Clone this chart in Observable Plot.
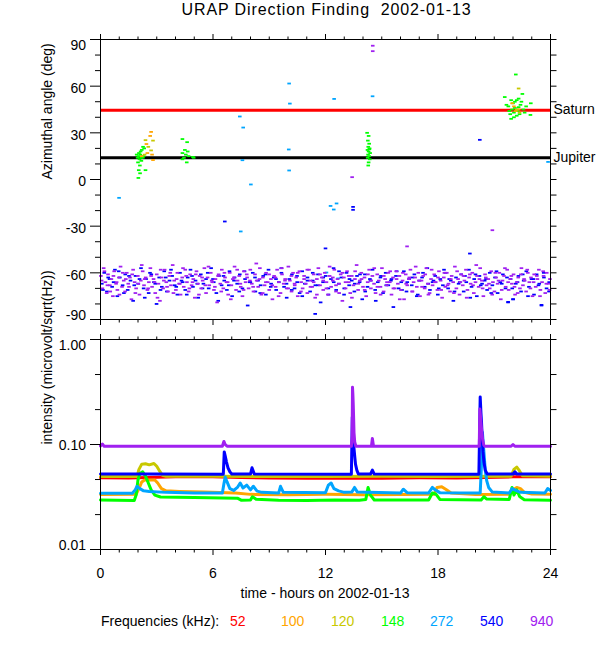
<!DOCTYPE html>
<html>
<head>
<meta charset="utf-8">
<script src="https://cdn.jsdelivr.net/npm/d3@7"></script>
<script src="https://cdn.jsdelivr.net/npm/@observablehq/plot@0.6"></script>
<style>
  body { margin: 0; background: #fff; }
  #wrap { position: relative; width: 600px; height: 650px; overflow: hidden; background: #fff;
          font-family: "Liberation Sans", Arial, Helvetica, sans-serif; color: #000; }
  .abs { position: absolute; white-space: pre; }
</style>
</head>
<body>
<div id="wrap">
  <div id="topPanel" class="abs" style="left:0;top:0"></div>
  <div id="botPanel" class="abs" style="left:0;top:330px"></div>
  <div id="title" class="abs" style="left:0;width:653px;top:1.5px;text-align:center;font-size:16px;line-height:16px;letter-spacing:0.9px"></div>
  <div id="xtitle" class="abs" style="left:0;width:650px;top:586.4px;text-align:center;font-size:14px;line-height:14px"></div>
  <div id="legend" class="abs" style="left:0;top:613.8px;width:600px;height:20px;font-size:14px;line-height:14px"></div>
</div>
<script>
// ---------------- text ----------------
const titleText = "URAP Direction Finding  2002-01-13";
const xTitle = "time - hours on 2002-01-13";
const yTitleTop = "Azimuthal angle (deg)";
const yTitleBottom = "intensity (microvolt/sqrt(Hz))";
const legendTitle = "Frequencies (kHz):";

// ---------------- ticks ----------------
const hoursMajor = [0, 6, 12, 18, 24];
const hoursMinor = [1, 2, 3, 4, 5, 7, 8, 9, 10, 11, 13, 14, 15, 16, 17, 19, 20, 21, 22, 23];
const angleMajor = [90, 60, 30, 0, -30, -60, -90];
const angleMinor = [80, 70, 50, 40, 20, 10, -10, -20, -40, -50, -70, -80];
const intensityMajor = [1, 0.1, 0.01];
const intensityLabels = ["1.00", "0.10", "0.01"];
const intensityMinor = [0.464, 0.215, 0.0464, 0.0215];

// ---------------- series ----------------
const freqs = ["52", "100", "120", "148", "272", "540", "940"];
const colors = ["#ff0000", "#ffa500", "#c8c800", "#00ff00", "#00a5ff", "#0000ff", "#a020f0"];

const planetNames = ["Saturn", "Jupiter"];
const planetAngles = [44.5, 14];

// Azimuth scatter: [hour, angle]
const az100 = [[2.7,30.6],[2.65,28],[2.45,22.8],[2.75,16],[2.8,12.5],[2.5,17],[2.2,15],[22.05,47],[22.15,44],[22.3,45],[21.95,49]];
const az120 = [[2.4,25.3],[2.8,25],[2.7,18.7],[2.55,21],[2.35,16],[22.3,58.5],[22.2,45],[22.35,43]];
const az148 = [[1.93,16],[1.98,14],[2.03,15],[2.08,13],[2.12,16],[2.17,14],[2.05,17],[2.14,18],[2.22,15],[2.0,11],[2.1,9],[2.04,6],[2.11,4],[2.02,1],[2.2,19],[2.27,21],[2.33,20],[2.18,12],[2.26,14],[2.4,6],[2.3,15],
  [4.37,26],[4.62,24],[4.5,19],[4.37,17],[4.65,18],[4.55,16],[4.45,14],[4.37,13],[4.6,11],[4.93,14.5],[4.97,14],[4.7,15],
  [14.22,30],[14.3,28],[14.26,25],[14.33,23],[14.28,21],[14.35,20],[14.24,19],[14.3,18],[14.38,17],[14.27,16],[14.33,15],[14.25,14],[14.36,13],[14.3,11],[14.28,9],[14.34,19.5],
  [21.56,53],[21.65,48],[21.75,47],[21.8,44],[21.85,42],[21.9,39],[21.95,45],[22.0,49],[22.05,43],[22.1,46],[22.15,67.5],[22.2,51],[22.25,44],[22.3,46.5],[22.35,42],[22.4,48],[22.45,50],[22.5,55],[22.55,45],[22.62,43],[22.7,47],[22.93,41.5],[22.95,49],[22.1,50],[22.2,41],[21.9,51],[22.3,52],[22.05,40]];
const az272 = [[0.99,-11.8],[7.43,40.5],[7.61,33.4],[7.57,12.4],[8.02,-3.2],[7.48,-33.4],[10.06,61.7],[10.1,48.8],[10.04,19.3],[10.06,5.8],[12.46,51.8],[12.27,-17],[12.59,-15.4],[12.44,-19.3],[14.51,53.5],[12.67,-63.6],[12.05,-59.8],[23.87,11.3]];
const az540 = [[0.07,-67],[0.2,-60],[0.34,-72],[0.48,-64],[0.62,-69],[0.77,-58],[0.9,-75],[1.03,-63],[1.18,-68],[1.32,-61],[1.45,-71],[1.6,-65],[1.74,-78],[1.87,-62],[2.01,-67],[2.16,-57],[2.3,-70],[2.43,-64],[2.57,-73],[2.71,-61],[2.85,-66],[2.99,-80],[3.13,-63],[3.27,-69],[3.4,-59],[3.54,-72],[3.68,-65],[3.82,-62],[3.96,-68],[4.1,-74],[4.24,-60],[4.38,-66],[4.52,-71],[4.65,-63],[4.8,-58],[4.93,-69],[5.07,-65],[5.21,-76],[5.35,-61],[5.49,-67],[5.63,-64],[5.77,-70],[5.9,-57],[6.04,-66],[6.18,-73],[6.32,-62],[6.46,-68],[6.6,-65],[6.74,-71],[6.88,-59],[7.02,-75],[7.15,-63],[7.29,-67],[7.43,-61],[7.57,-70],[7.71,-64],[7.85,-81],[7.99,-66],[8.12,-60],[8.26,-72],[8.4,-65],[8.54,-68],[8.68,-62],[8.82,-74],[8.96,-58],[9.1,-67],[9.24,-63],[9.37,-71],[9.51,-66],[9.65,-60],[9.79,-69],[9.93,-76],[10.07,-64],[10.21,-61],[10.35,-70],[10.49,-66],[10.62,-73],[10.76,-59],[10.9,-67],[11.04,-63],[11.18,-72],[11.32,-65],[11.46,-68],[11.6,-61],[11.74,-79],[11.87,-66],[12.01,-62],[12.15,-70],[12.29,-64],[12.43,-57],[12.57,-71],[12.71,-67],[12.85,-63],[12.99,-74],[13.12,-60],[13.26,-68],[13.4,-65],[13.54,-72],[13.68,-62],[13.82,-66],[13.96,-77],[14.1,-61],[14.24,-69],[14.37,-64],[14.51,-58],[14.65,-71],[14.79,-66],[14.93,-63],[15.07,-73],[15.21,-60],[15.35,-68],[15.49,-65],[15.62,-82],[15.76,-62],[15.9,-70],[16.04,-66],[16.18,-59],[16.32,-72],[16.46,-64],[16.6,-68],[16.74,-61],[16.87,-75],[17.01,-65],[17.15,-63],[17.29,-69],[17.43,-57],[17.57,-71],[17.71,-66],[17.85,-62],[17.99,-74],[18.12,-64],[18.26,-68],[18.4,-60],[18.54,-70],[18.68,-65],[18.82,-78],[18.96,-63],[19.1,-67],[19.24,-61],[19.37,-72],[19.51,-66],[19.65,-58],[19.79,-69],[19.93,-64],[20.07,-75],[20.21,-62],[20.35,-67],[20.49,-65],[20.62,-71],[20.76,-60],[20.9,-68],[21.04,-63],[21.18,-73],[21.32,-66],[21.46,-61],[21.6,-70],[21.74,-79],[21.87,-64],[22.01,-77],[22.15,-67],[22.29,-62],[22.43,-72],[22.57,-65],[22.71,-59],[22.85,-69],[22.99,-64],[23.12,-74],[23.26,-61],[23.4,-67],[23.52,-81],[23.65,-63],[23.79,-70],[23.93,-66],
  [0.13,-71],[0.41,-63],[0.7,-66],[0.97,-59],[1.25,-73],[1.52,-62],[1.8,-68],[2.08,-64],[2.36,-76],[2.64,-60],[2.92,-67],[3.2,-71],[3.48,-63],[3.76,-58],[4.04,-69],[4.32,-65],[4.6,-74],[4.88,-62],[5.16,-67],[5.44,-70],[5.72,-60],[6.0,-64],[6.28,-78],[6.56,-62],[6.84,-68],[7.12,-65],[7.4,-72],[7.68,-59],[7.96,-66],[8.24,-63],[8.52,-73],[8.8,-61],[9.08,-69],[9.36,-64],[9.64,-57],[9.92,-67],[10.2,-71],[10.48,-62],[10.76,-75],[11.04,-65],[11.32,-60],[11.6,-68],[11.88,-63],[12.16,-74],[12.44,-66],[12.72,-59],[13.0,-70],[13.28,-64],[13.56,-67],[13.84,-61],[14.12,-72],[14.4,-65],[14.68,-78],[14.96,-62],[15.24,-68],[15.52,-64],[15.8,-59],[16.08,-71],[16.36,-66],[16.64,-63],[16.92,-74],[17.2,-60],[17.48,-67],[17.76,-65],[18.04,-70],[18.32,-58],[18.6,-64],[18.88,-72],[19.16,-66],[19.44,-62],[19.72,-76],[20.0,-61],[20.28,-68],[20.56,-64],[20.84,-73],[21.12,-59],[21.4,-67],[21.68,-63],[21.96,-70],[22.24,-66],[22.52,-61],[22.8,-75],[23.08,-64],[23.36,-68],[23.64,-60],[23.92,-72],
  [6.63,-27],[12.0,-44.3],[11.45,-86.4],[13.33,-82],[13.47,-17.6],[13.47,-19.5],[20.23,25.5],[19.7,-47.6],[21.74,-78.7],[22.0,-77],[23.52,-80.6]];
const az940 = [[0.02,-62],[0.1,-70],[0.17,-57],[0.26,-66],[0.33,-73],[0.4,-61],[0.5,-68],[0.58,-64],[0.66,-75],[0.73,-59],[0.83,-67],[0.9,-71],[0.98,-63],[1.07,-56],[1.15,-69],[1.24,-65],[1.31,-72],[1.4,-60],[1.48,-67],[1.57,-63],[1.65,-77],[1.74,-58],[1.82,-66],[1.9,-70],[1.99,-62],[2.08,-74],[2.15,-65],[2.25,-59],[2.32,-68],[2.41,-63],[2.5,-71],[2.58,-66],[2.66,-57],[2.75,-69],[2.83,-64],[2.92,-73],[3.0,-61],[3.09,-67],[3.17,-78],[3.26,-63],[3.34,-70],[3.42,-58],[3.51,-66],[3.6,-72],[3.67,-62],[3.76,-68],[3.85,-55],[3.93,-65],[4.02,-71],[4.1,-60],[4.19,-67],[4.27,-74],[4.36,-63],[4.44,-69],[4.52,-58],[4.61,-66],[4.7,-72],[4.78,-61],[4.86,-68],[4.95,-64],[5.03,-76],[5.12,-59],[5.2,-67],[5.29,-62],[5.37,-70],[5.45,-65],[5.54,-57],[5.63,-73],[5.71,-63],[5.8,-68],[5.88,-60],[5.96,-66],[6.05,-71],[6.13,-64],[6.22,-79],[6.3,-61],[6.39,-67],[6.47,-58],[6.55,-70],[6.64,-63],[6.72,-66],[6.81,-74],[6.89,-60],[6.98,-68],[7.06,-64],[7.15,-56],[7.23,-71],[7.31,-65],[7.4,-62],[7.48,-69],[7.57,-75],[7.65,-59],[7.74,-66],[7.82,-63],[7.9,-70],[7.99,-58],[8.07,-67],[8.16,-72],[8.24,-61],[8.33,-65],[8.41,-69],[8.5,-57],[8.58,-74],[8.66,-63],[8.75,-68],[8.83,-60],[8.92,-66],[9.0,-71],[9.09,-64],[9.17,-77],[9.26,-62],[9.34,-69],[9.42,-58],[9.51,-66],[9.6,-73],[9.68,-61],[9.77,-67],[9.85,-64],[9.93,-70],[10.02,-56],[10.1,-65],[10.19,-72],[10.27,-60],[10.36,-68],[10.44,-63],[10.52,-75],[10.61,-59],[10.7,-66],[10.78,-70],[10.86,-62],[10.95,-67],[11.03,-73],[11.12,-58],[11.2,-65],[11.29,-69],[11.37,-61],[11.45,-76],[11.54,-64],[11.62,-57],[11.71,-68],[11.8,-63],[11.88,-71],[11.96,-60],[12.05,-66],[12.13,-74],[12.22,-62],[12.3,-69],[12.39,-65],[12.47,-58],[12.56,-72],[12.64,-64],[12.72,-67],[12.81,-61],[12.9,-78],[12.98,-63],[13.07,-70],[13.15,-59],[13.24,-66],[13.32,-73],[13.4,-62],[13.49,-68],[13.57,-64],[13.66,-55],[13.74,-71],[13.83,-65],[13.91,-60],[14.0,-69],[14.08,-63],[14.17,-75],[14.25,-66],[14.33,-58],[14.42,-70],[14.5,-62],[14.59,-67],[14.67,-73],[14.76,-61],[14.84,-65],[14.93,-69],[15.01,-57],[15.1,-72],[15.18,-64],[15.27,-68],[15.35,-60],[15.43,-66],[15.52,-74],[15.6,-63],[15.69,-70],[15.77,-59],[15.86,-67],[15.94,-62],[16.02,-71],[16.11,-65],[16.19,-77],[16.28,-61],[16.36,-68],[16.45,-64],[16.53,-58],[16.62,-72],[16.7,-66],[16.78,-63],[16.87,-69],[16.95,-60],[17.04,-75],[17.12,-65],[17.21,-62],[17.29,-70],[17.38,-57],[17.46,-67],[17.55,-73],[17.63,-64],[17.71,-68],[17.8,-61],[17.88,-66],[17.97,-71],[18.05,-59],[18.14,-65],[18.22,-76],[18.31,-63],[18.39,-69],[18.47,-60],[18.56,-67],[18.64,-72],[18.73,-62],[18.81,-66],[18.9,-56],[18.98,-70],[19.07,-64],[19.15,-74],[19.24,-61],[19.32,-68],[19.41,-65],[19.49,-58],[19.57,-71],[19.66,-63],[19.74,-67],[19.83,-60],[19.91,-73],[20.0,-66],[20.08,-62],[20.17,-69],[20.25,-57],[20.34,-65],[20.42,-75],[20.51,-61],[20.59,-68],[20.68,-64],[20.76,-70],[20.84,-59],[20.93,-66],[21.01,-72],[21.1,-63],[21.18,-67],[21.27,-60],[21.35,-77],[21.44,-65],[21.52,-62],[21.61,-69],[21.69,-58],[21.77,-71],[21.86,-64],[21.94,-67],[22.03,-61],[22.11,-74],[22.2,-66],[22.28,-63],[22.37,-70],[22.45,-57],[22.53,-68],[22.62,-65],[22.7,-72],[22.79,-60],[22.87,-66],[22.96,-63],[23.04,-75],[23.13,-61],[23.21,-69],[23.3,-64],[23.38,-58],[23.46,-71],[23.55,-66],[23.63,-62],[23.72,-73],[23.8,-60],[23.89,-67],[23.97,-64],
  [0.06,-65],[0.21,-59],[0.37,-68],[0.52,-72],[0.69,-62],[0.86,-66],[1.01,-74],[1.19,-60],[1.35,-64],[1.52,-69],[1.69,-61],[1.86,-73],[2.02,-67],[2.2,-55],[2.36,-64],[2.54,-70],[2.7,-62],[2.88,-66],[3.04,-76],[3.21,-58],[3.38,-65],[3.55,-69],[3.72,-60],[3.89,-73],[4.06,-64],[4.23,-67],[4.4,-57],[4.57,-62],[4.74,-70],[4.91,-66],[5.08,-61],[5.25,-74],[5.42,-63],[5.59,-68],[5.76,-56],[5.93,-65],[6.1,-69],[6.27,-62],[6.44,-72],[6.61,-60],[6.78,-66],[6.95,-77],[7.12,-63],[7.29,-58],[7.46,-67],[7.63,-71],[7.8,-61],[7.97,-65],[8.14,-69],[8.31,-54],[8.48,-64],[8.65,-73],[8.82,-66],[8.99,-61],[9.16,-68],[9.33,-63],[9.5,-75],[9.67,-57],[9.84,-65],[10.01,-70],[10.18,-62],[10.35,-67],[10.52,-60],[10.69,-72],[10.86,-64],[11.03,-58],[11.2,-69],[11.37,-66],[11.54,-74],[11.71,-61],[11.88,-65],[12.05,-70],[12.22,-56],[12.39,-63],[12.56,-68],[12.73,-73],[12.9,-60],[13.07,-66],[13.24,-62],[13.41,-76],[13.58,-59],[13.75,-67],[13.92,-64],[14.09,-71],[14.26,-61],[14.43,-65],[14.6,-57],[14.77,-69],[14.94,-74],[15.11,-62],[15.28,-66],[15.45,-59],[15.62,-70],[15.79,-64],[15.96,-77],[16.13,-60],[16.3,-67],[16.47,-63],[16.64,-72],[16.81,-56],[16.98,-65],[17.15,-69],[17.32,-61],[17.49,-74],[17.66,-58],[17.83,-66],[18.0,-63],[18.17,-71],[18.34,-60],[18.51,-68],[18.68,-64],[18.85,-73],[19.02,-59],[19.19,-66],[19.36,-62],[19.53,-76],[19.7,-61],[19.87,-68],[20.04,-55],[20.21,-64],[20.38,-70],[20.55,-63],[20.72,-67],[20.89,-74],[21.06,-60],[21.23,-65],[21.4,-71],[21.57,-57],[21.74,-66],[21.91,-62],[22.08,-69],[22.25,-73],[22.42,-61],[22.59,-64],[22.76,-58],[22.93,-70],[23.1,-66],[23.27,-62],[23.44,-75],[23.61,-59],[23.78,-67],[23.95,-71],
  [14.52,86],[14.52,82.5],[13.42,1.5],[20.9,-32.6],[16.35,-43]];

// Intensity time series: [hour, microvolt/sqrt(Hz)]
const int52 = [[0,0.0482],[1.5,0.0480],[2.5,0.0486],[4,0.0492],[6,0.0494],[7.5,0.0486],[9,0.0479],[11,0.0478],[13,0.0477],[15,0.0478],[17,0.0481],[19,0.0479],[20.5,0.0484],[22,0.0492],[24,0.0494]];
const int100 = [[0,0.0334],[1.9,0.0335],[2.05,0.038],[2.2,0.044],[2.35,0.046],[2.9,0.046],[3.05,0.043],[3.25,0.038],[3.5,0.0362],[4.2,0.0357],[5.5,0.0352],[7.2,0.0345],[8.0,0.0335],[10,0.0333],[12,0.0335],[14,0.0332],[16,0.0334],[17.8,0.0336],[17.95,0.039],[18.2,0.0395],[18.45,0.037],[18.7,0.0345],[20,0.0334],[21.8,0.0335],[22.0,0.037],[22.2,0.039],[22.4,0.038],[22.6,0.035],[23,0.0338],[24,0.0336]];
const int120 = [[0,0.0497],[1.95,0.0497],[2.05,0.058],[2.2,0.065],[2.4,0.0655],[2.6,0.064],[2.85,0.066],[3.0,0.062],[3.15,0.056],[3.3,0.051],[3.5,0.0498],[6,0.0498],[9,0.0496],[12,0.0497],[15,0.0498],[18,0.0497],[21.5,0.0498],[21.9,0.0498],[22.05,0.058],[22.2,0.061],[22.35,0.056],[22.5,0.0505],[24,0.0498]];
const int148 = [[0,0.0296],[1.8,0.0293],[1.9,0.033],[2.0,0.046],[2.1,0.053],[2.25,0.055],[2.4,0.05],[2.55,0.043],[2.7,0.037],[2.9,0.033],[3.2,0.0316],[5,0.0312],[7.3,0.0308],[7.5,0.0295],[8.0,0.0296],[8.1,0.0318],[8.3,0.0301],[9.5,0.0295],[11,0.0293],[12.5,0.0296],[13.8,0.0294],[14.15,0.030],[14.27,0.039],[14.4,0.033],[14.6,0.0296],[17.5,0.0296],[17.7,0.0345],[17.9,0.0335],[18.1,0.030],[20.3,0.0296],[20.45,0.0318],[20.6,0.0302],[21.8,0.030],[21.95,0.039],[22.05,0.033],[22.2,0.037],[22.35,0.032],[22.6,0.0298],[24,0.0294]];
const int272 = [[0,0.0343],[1.7,0.0343],[1.85,0.037],[1.95,0.040],[2.1,0.038],[2.3,0.0362],[2.6,0.0357],[3.5,0.035],[5,0.0345],[6.5,0.0345],[6.58,0.042],[6.65,0.049],[6.75,0.044],[6.9,0.038],[7.1,0.0365],[7.3,0.039],[7.45,0.043],[7.6,0.0385],[7.8,0.041],[8.0,0.037],[8.15,0.040],[8.35,0.036],[8.6,0.035],[9.5,0.0345],[9.6,0.040],[9.75,0.035],[12.0,0.0348],[12.15,0.041],[12.3,0.043],[12.45,0.038],[12.7,0.0362],[13.0,0.035],[13.4,0.0352],[13.55,0.039],[13.7,0.0352],[16.0,0.0345],[16.15,0.0375],[16.35,0.0348],[17.5,0.0345],[17.7,0.039],[17.85,0.037],[18.1,0.0348],[20.25,0.0346],[20.33,0.07],[20.37,0.13],[20.42,0.10],[20.47,0.075],[20.53,0.055],[20.6,0.045],[20.7,0.039],[20.9,0.0352],[21.8,0.0345],[21.95,0.038],[22.15,0.0365],[22.4,0.035],[23.7,0.0345],[23.85,0.038],[24,0.0365]];
const int540 = [[0,0.0523],[2,0.0524],[3,0.0523],[6.55,0.0522],[6.6,0.085],[6.65,0.078],[6.72,0.068],[6.8,0.060],[6.9,0.055],[7.0,0.0525],[8.0,0.0523],[8.08,0.060],[8.2,0.0525],[13.38,0.0522],[13.43,0.183],[13.47,0.13],[13.5,0.10],[13.55,0.08],[13.6,0.065],[13.67,0.057],[13.75,0.0525],[14.4,0.0523],[14.5,0.057],[14.6,0.0523],[20.18,0.0522],[20.25,0.284],[20.29,0.2],[20.32,0.164],[20.36,0.114],[20.4,0.085],[20.45,0.068],[20.52,0.057],[20.62,0.0525],[22.0,0.0523],[22.1,0.055],[22.2,0.0523],[24,0.0523]];
const int940 = [[0,0.097],[0.1,0.101],[0.2,0.096],[3,0.0962],[6.5,0.0962],[6.58,0.107],[6.65,0.100],[6.75,0.0963],[13.38,0.0962],[13.42,0.12],[13.44,0.35],[13.46,0.30],[13.48,0.24],[13.5,0.18],[13.52,0.13],[13.56,0.105],[13.62,0.0963],[14.45,0.0962],[14.5,0.114],[14.56,0.0963],[20.2,0.0962],[20.23,0.218],[20.26,0.19],[20.3,0.155],[20.34,0.13],[20.38,0.112],[20.44,0.099],[20.5,0.0962],[21.9,0.0962],[22.0,0.100],[22.1,0.0962],[24,0.0962]];

// ---------------- build ----------------
const FONT = '"Liberation Sans", Arial, Helvetica, sans-serif';
const colorOf = f => colors[freqs.indexOf(f)];
const dash = { draw(context) { context.rect(-1.8, -0.9, 3.6, 1.8); } };
const blank = () => "";

const azSeries = [["272", az272], ["148", az148], ["100", az100], ["120", az120], ["540", az540], ["940", az940]];
const intSeries = [["52", int52], ["100", int100], ["120", int120], ["148", int148], ["272", int272], ["540", int540], ["940", int940]];

const frameTicks = (yMajor, yMinor, yAll, labelX) => [
  Plot.frame({stroke: "black", strokeWidth: 1}),
  Plot.axisY(yMajor, {anchor: "left", tickSize: 10, tickFormat: blank, label: null}),
  Plot.axisY(yMinor, {anchor: "left", tickSize: 5, tickFormat: blank, label: null}),
  Plot.axisY(yAll, {anchor: "right", tickSize: 5.5, tickFormat: blank, label: null}),
  Plot.axisX(hoursMajor, {anchor: "top", tickSize: 6, tickFormat: blank, label: null}),
  Plot.axisX(hoursMinor, {anchor: "top", tickSize: 3.5, tickFormat: blank, label: null}),
  Plot.axisX(hoursMajor, {anchor: "bottom", tickSize: 6, tickPadding: 12.8, tickFormat: labelX ? (d => String(d)) : blank, label: null}),
  Plot.axisX(hoursMinor, {anchor: "bottom", tickSize: 3.5, tickFormat: blank, label: null})
];

const planets = planetNames.map((n, i) => ({n, a: planetAngles[i]}));
const angleMid = angleMajor.slice(1, -1);

const topPlot = Plot.plot({
  width: 600, height: 330,
  marginLeft: 100, marginRight: 50, marginTop: 39, marginBottom: 11,
  style: {fontFamily: FONT, fontSize: "14px", color: "black", background: "transparent", overflow: "visible"},
  x: {domain: [0, 24], label: null},
  y: {domain: [-90, 90], label: null},
  marks: [
    Plot.ruleY([planets[0]], {y: "a", stroke: "#ff0000", strokeWidth: 3}),
    Plot.ruleY([planets[1]], {y: "a", stroke: "#000000", strokeWidth: 3}),
    ...azSeries.map(([f, arr]) => Plot.dot(arr, {x: d => d[0], y: d => d[1], fill: colorOf(f), symbol: dash})),
    ...frameTicks(angleMajor, angleMinor, [...angleMajor, ...angleMinor], false),
    Plot.text(angleMid, {y: d => d, text: d => String(d), frameAnchor: "left", textAnchor: "end", dx: -14.5, dy: 2.3}),
    Plot.text([angleMajor[0]], {y: d => d, text: d => String(d), frameAnchor: "left", textAnchor: "end", dx: -14.5, dy: 6.4}),
    Plot.text([angleMajor[angleMajor.length - 1]], {y: d => d, text: d => String(d), frameAnchor: "left", textAnchor: "end", dx: -14.5, dy: -4.3}),
    Plot.text(planets, {y: "a", text: "n", frameAnchor: "right", textAnchor: "start", dx: 3, dy: -0.5}),
    Plot.text([yTitleTop], {text: d => d, frameAnchor: "left", rotate: -90, dx: -53})
  ]
});
document.getElementById("topPanel").appendChild(topPlot);

const botPlot = Plot.plot({
  width: 600, height: 255,
  marginLeft: 100, marginRight: 50, marginTop: 9, marginBottom: 36,
  style: {fontFamily: FONT, fontSize: "14px", color: "black", background: "transparent", overflow: "visible"},
  x: {domain: [0, 24], label: null},
  y: {type: "log", domain: [0.01, 1], label: null},
  marks: [
    ...intSeries.map(([f, arr]) => Plot.line(arr, {x: d => d[0], y: d => d[1], stroke: colorOf(f), strokeWidth: 3, strokeLinejoin: "round"})),
    ...frameTicks(intensityMajor, intensityMinor, [...intensityMajor, ...intensityMinor], true),
    ...intensityMajor.map((v, i) => Plot.text([v], {y: d => d, text: () => intensityLabels[i], frameAnchor: "left", textAnchor: "end", dx: -14.5, dy: [6.5, 1, -3.5][i]})),
    Plot.text([yTitleBottom], {text: d => d, frameAnchor: "left", rotate: -90, dx: -53})
  ]
});
document.getElementById("botPanel").appendChild(botPlot);

document.getElementById("title").textContent = titleText;
document.getElementById("xtitle").textContent = xTitle;

const legend = document.getElementById("legend");
const lt = document.createElement("span");
lt.className = "abs"; lt.style.left = "101px"; lt.style.top = "0"; lt.textContent = legendTitle;
legend.appendChild(lt);
const legendLefts = [230, 281, 331, 381, 430, 480, 530];
freqs.forEach((f, i) => {
  const s = document.createElement("span");
  s.className = "abs"; s.style.left = legendLefts[i] + "px"; s.style.top = "0";
  s.style.color = colors[i]; s.textContent = f;
  legend.appendChild(s);
});
</script>
</body>
</html>
